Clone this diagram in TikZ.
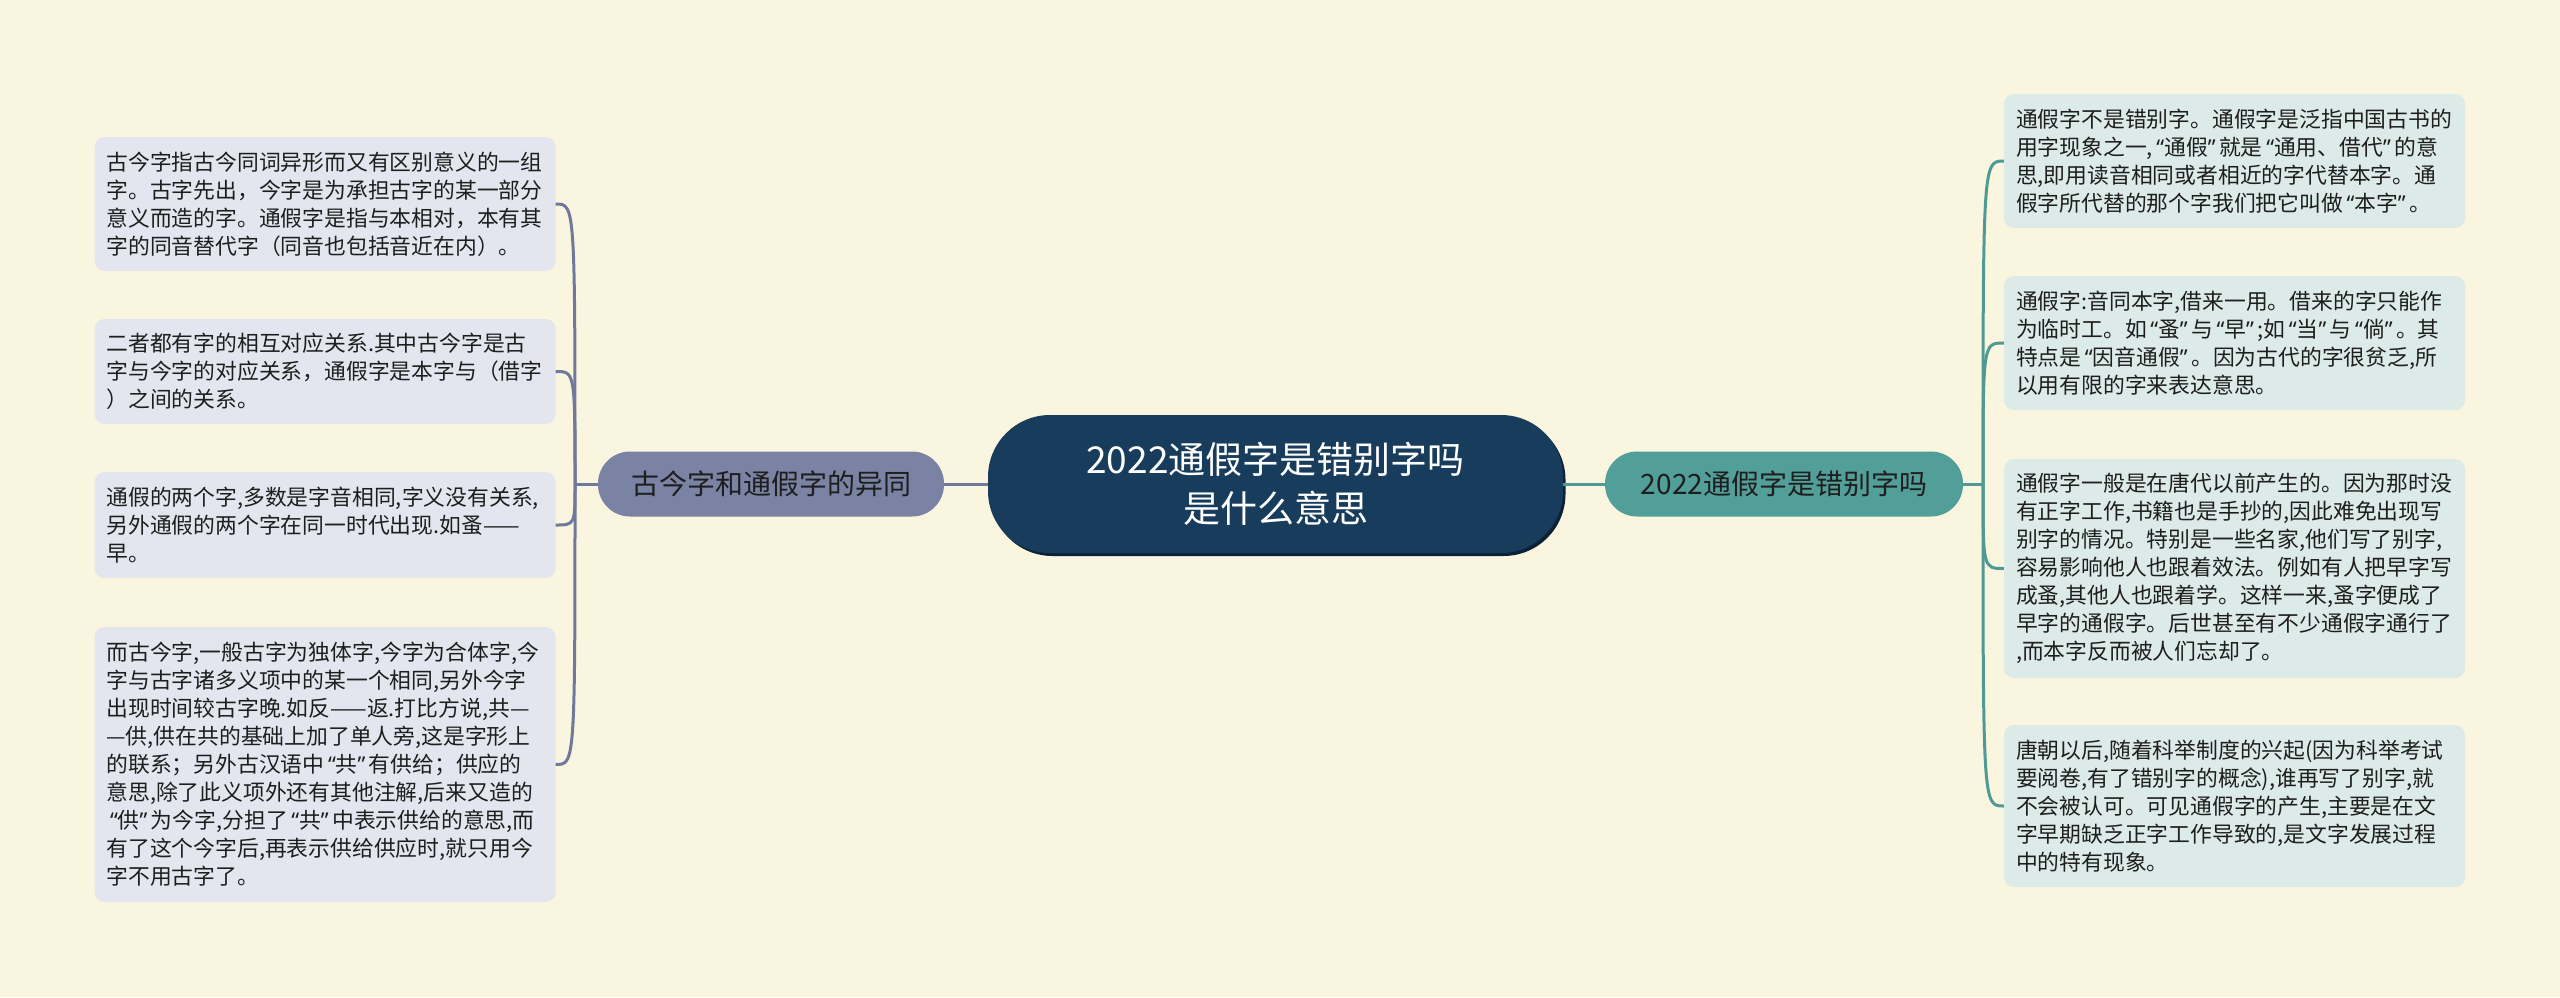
\documentclass[tikz,border=0pt]{standalone}
\usepackage{fontspec}
\setmainfont{Noto Sans CJK SC}
\newfontfamily\quotefont{Noto Sans}
\newcommand{\myoq}{\makebox[0.52em][r]{\quotefont “}}
\newcommand{\mycq}{\makebox[0.52em][l]{\quotefont ”}}
\definecolor{bg}{RGB}{250,245,223}
\definecolor{centerfill}{RGB}{24,61,92}
\definecolor{centershadow}{RGB}{12,35,55}
\definecolor{leftsubfill}{RGB}{122,131,163}
\definecolor{rightsubfill}{RGB}{82,158,153}
\definecolor{leafLfill}{RGB}{227,230,238}
\definecolor{leafRfill}{RGB}{220,234,232}
\definecolor{lineL}{RGB}{112,121,155}
\definecolor{lineR}{RGB}{78,154,148}
\definecolor{textdark}{RGB}{30,30,30}
\tikzset{
  centerbox/.style={fill=centerfill, rounded corners=62pt, minimum width=575pt, minimum height=138pt,
    text=white, align=center, font=\fontsize{37}{49}\selectfont, inner sep=0pt},
  subL/.style={fill=leftsubfill, rounded corners=32pt, minimum width=346pt, minimum height=65pt,
    text=textdark, font=\fontsize{28}{34}\selectfont, inner sep=0pt},
  subR/.style={fill=rightsubfill, rounded corners=32pt, minimum width=358pt, minimum height=65pt,
    text=textdark, font=\fontsize{28}{34}\selectfont, inner sep=0pt},
  leafbase/.style={rounded corners=10pt, text width=437pt, inner xsep=12pt, inner ysep=0pt,
    align=left, font=\fontsize{21.8}{28}\selectfont, text=textdark},
  leafL/.style={leafbase, fill=leafLfill},
  leafR/.style={leafbase, fill=leafRfill},
  connL/.style={draw=lineL, line width=3pt},
  connR/.style={draw=lineR, line width=3pt},
}
\begin{document}
\begin{tikzpicture}[x=1pt,y=-1pt]
\fill[bg] (0,0) rectangle (2560,997);
\useasboundingbox (0,0) rectangle (2560,997);

% central node with a slight shadow
\fill[centershadow, rounded corners=62pt] (990.5,418) rectangle (1565.5,556);
\node[centerbox] (c) at (1275.5,484) {2022通假字是错别字吗\\是什么意思};

\node[subL] (ls) at (771,484) {古今字和通假字的异同};
\node[subR] (rs) at (1784,484) {2022通假字是错别字吗};

% left leaves
\node[leafL, minimum height=134pt] (l1) at (325,204) {古今字指古今同词异形而又有区别意义的一组\\字。古字先出，今字是为承担古字的某一部分\\意义而造的字。通假字是指与本相对，本有其\\字的同音替代字（同音也包括音近在内）。};
\node[leafL, minimum height=105pt] (l2) at (325,371.5) {二者都有字的相互对应关系.其中古今字是古\\字与今字的对应关系，通假字是本字与（借字\\）之间的关系。};
\node[leafL, minimum height=106pt] (l3) at (325,525) {通假的两个字,多数是字音相同,字义没有关系,\\另外通假的两个字在同一时代出现.如蚤——\\早。};
\node[leafL, minimum height=275pt] (l4) at (325,764.5) {而古今字,一般古字为独体字,今字为合体字,今\\字与古字诸多义项中的某一个相同,另外今字\\出现时间较古字晚.如反——返.打比方说,共—\\—供,供在共的基础上加了单人旁,这是字形上\\的联系；另外古汉语中\myoq 共\mycq 有供给；供应的\\意思,除了此义项外还有其他注解,后来又造的\\\myoq 供\mycq 为今字,分担了\myoq 共\mycq 中表示供给的意思,而\\有了这个今字后,再表示供给供应时,就只用今\\字不用古字了。};

% right leaves
\node[leafR, minimum height=134pt] (r1) at (2234.5,161) {通假字不是错别字。通假字是泛指中国古书的\\用字现象之一,\myoq 通假\mycq 就是\myoq 通用、借代\mycq 的意\\思,即用读音相同或者相近的字代替本字。通\\假字所代替的那个字我们把它叫做\myoq 本字\mycq 。};
\node[leafR, minimum height=134pt] (r2) at (2234.5,343) {通假字:音同本字,借来一用。借来的字只能作\\为临时工。如\myoq 蚤\mycq 与\myoq 早\mycq ;如\myoq 当\mycq 与\myoq 倘\mycq 。其\\特点是\myoq 因音通假\mycq 。因为古代的字很贫乏,所\\以用有限的字来表达意思。};
\node[leafR, minimum height=219pt] (r3) at (2234.5,568.5) {通假字一般是在唐代以前产生的。因为那时没\\有正字工作,书籍也是手抄的,因此难免出现写\\别字的情况。特别是一些名家,他们写了别字,\\容易影响他人也跟着效法。例如有人把早字写\\成蚤,其他人也跟着学。这样一来,蚤字便成了\\早字的通假字。后世甚至有不少通假字通行了\\,而本字反而被人们忘却了。};
\node[leafR, minimum height=162pt] (r4) at (2234.5,806) {唐朝以后,随着科举制度的兴起(因为科举考试\\要阅卷,有了错别字的概念),谁再写了别字,就\\不会被认可。可见通假字的产生,主要是在文\\字早期缺乏正字工作导致的,是文字发展过程\\中的特有现象。};

% junctions
\coordinate (jl) at (575,484);
\coordinate (jr) at (1983,484);

% connectors
\draw[connL] (c.west) -- (ls.east);
\draw[connR] (c.east) -- (rs.west);
\draw[connL] (ls.west) -- (jl);
\draw[connR] (rs.east) -- (jr);

\foreach \n in {l1,l2,l3,l4}{
  \draw[connL] (jl) .. controls (jl |- \n.east) and (jl |- \n.east) .. (\n.east);
}
\foreach \n in {r1,r2,r3,r4}{
  \draw[connR] (jr) .. controls (jr |- \n.west) and (jr |- \n.west) .. (\n.west);
}
\end{tikzpicture}
\end{document}
